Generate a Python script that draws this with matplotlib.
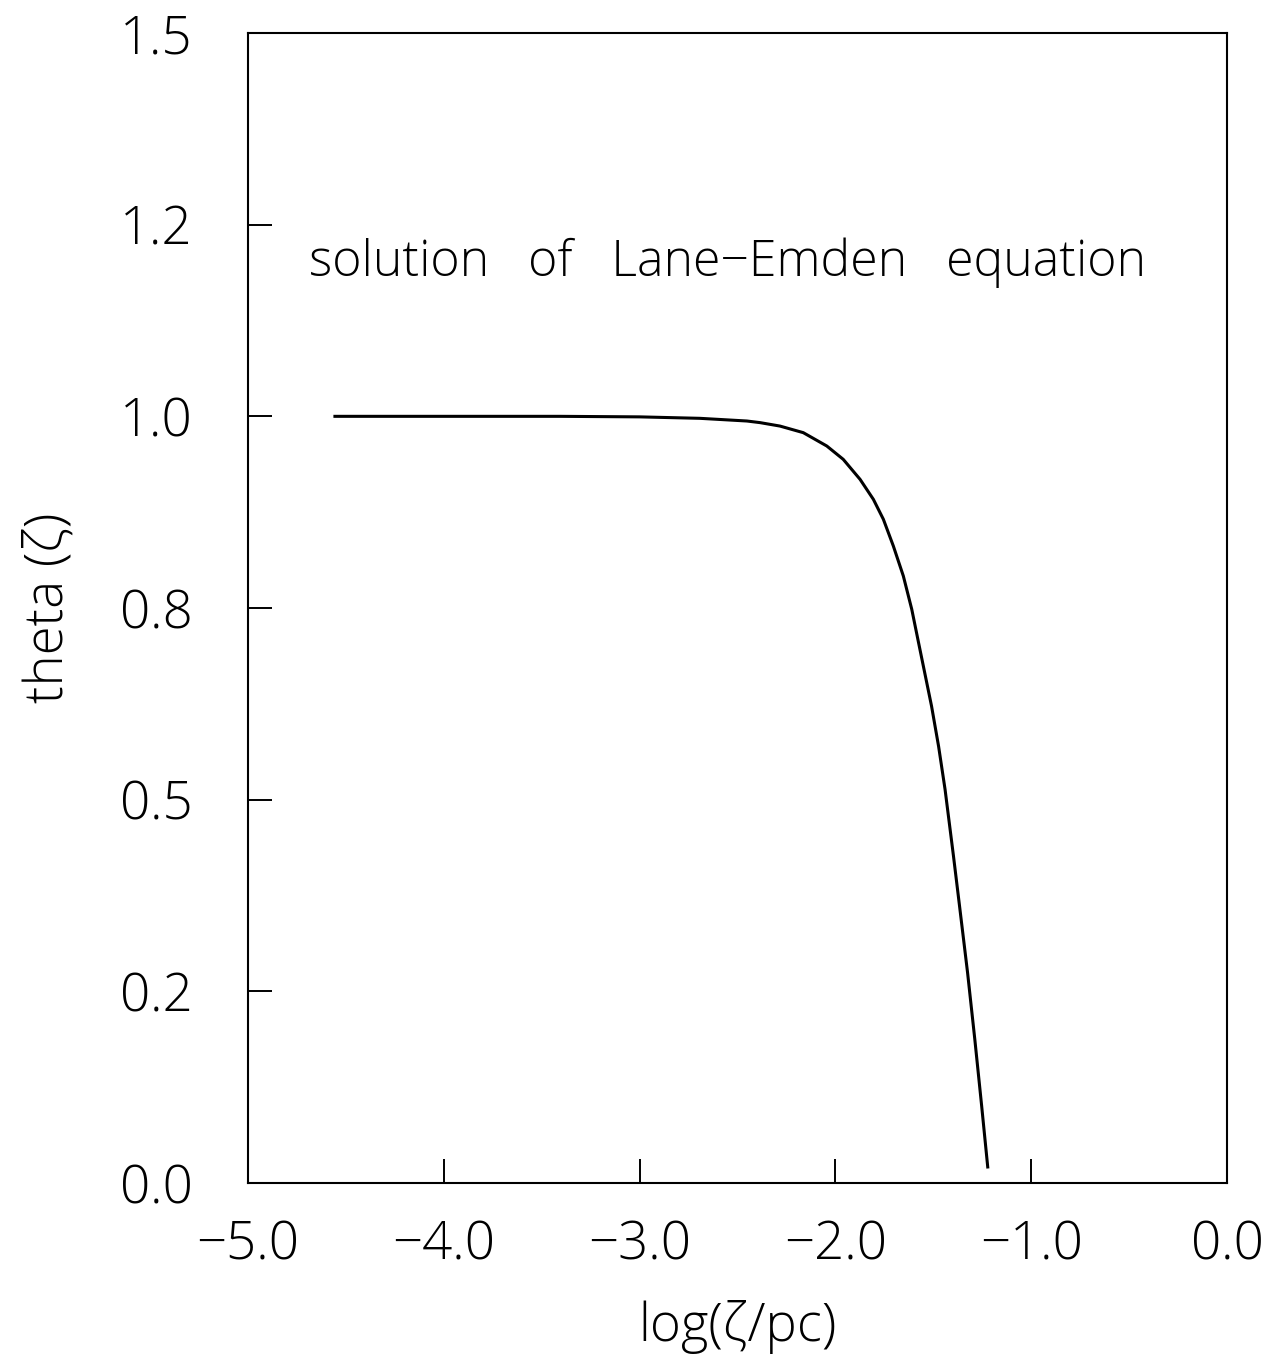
import matplotlib
matplotlib.use("Agg")
import matplotlib.pyplot as plt

# theta(zeta)
log_zeta = [-4.556, -4.0, -3.407, -3.0, -2.692, -2.452, -2.385, -2.283, -2.164,
            -2.044, -1.960, -1.874, -1.806, -1.755, -1.704, -1.653, -1.610,
            -1.577, -1.537, -1.509, -1.473, -1.440, -1.397, -1.366, -1.325,
            -1.288, -1.253, -1.222]
theta = [1.0, 1.0, 1.0, 0.9993, 0.9974, 0.9939, 0.9918, 0.9873, 0.9787,
         0.9613, 0.9439, 0.9178, 0.8917, 0.8657, 0.8308, 0.7917, 0.7483,
         0.7069, 0.6570, 0.6221, 0.5696, 0.5135, 0.4265, 0.3613, 0.2744,
         0.1874, 0.1004, 0.0209]

xticks = [-5.0, -4.0, -3.0, -2.0, -1.0, 0.0]
xticklabels = ["\u22125.0", "\u22124.0", "\u22123.0", "\u22122.0", "\u22121.0", "0.0"]
yticks = [0.0, 0.25, 0.5, 0.75, 1.0, 1.25, 1.5]
yticklabels = ["0.0", "0.2", "0.5", "0.8", "1.0", "1.2", "1.5"]

plt.rcParams['font.family'] = ['Open Sans', 'DejaVu Sans']

fig = plt.figure(figsize=(12.79, 13.62), dpi=100)
ax = fig.add_axes([248 / 1279, 1 - 1183 / 1362, (1227 - 248) / 1279, (1183 - 33) / 1362])

ax.plot(log_zeta, theta, color='black', lw=2.2)
ax.set_xlim(-5.0, 0.0)
ax.set_ylim(0.0, 1.5)

ax.set_xticks(xticks)
ax.set_xticklabels(xticklabels, fontsize=38, fontweight='light')
ax.set_yticks(yticks)
ax.set_yticklabels(yticklabels, fontsize=38, fontweight='light')
ax.tick_params(direction='in', length=17, width=1.4, top=False, right=False)
ax.tick_params(axis='x', pad=26)
ax.tick_params(axis='y', pad=40)
for s in ax.spines.values():
    s.set_linewidth(1.5)

ax.set_xlabel("log(\u03b6/pc)", fontsize=38, fontweight='light', labelpad=20)
ax.set_ylabel("theta (\u03b6)", fontsize=38, fontweight='light', labelpad=32)

ax.text(0.062, 0.80, "solution   of   Lane\u2212Emden   equation", transform=ax.transAxes,
        fontsize=36, fontweight='light', ha='left', va='center')

fig.savefig("out.png", dpi=100)
